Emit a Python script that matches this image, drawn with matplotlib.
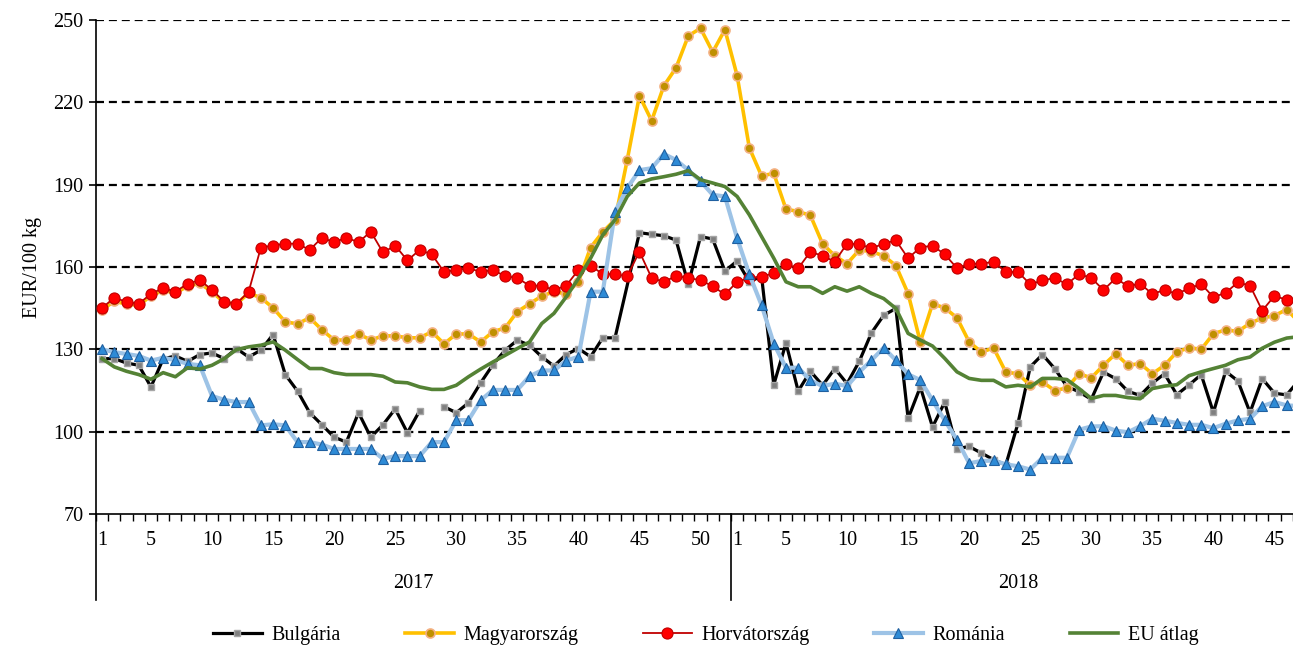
import numpy as np
import matplotlib
matplotlib.use("Agg")
import matplotlib.pyplot as plt
import matplotlib.transforms as mtransforms

plt.rcParams['font.family'] = ['Liberation Serif', 'DejaVu Serif']

# weekly prices, EUR/100 kg (2017: weeks 1-52, 2018: weeks 1-47)
weeks_2017 = list(range(1, 53))
weeks_2018 = list(range(1, 48))
years = ["2017", "2018"]

nan = np.nan
bulgaria_2017 = [126.6, 126.6, 125.0, 124.2, 116.3, 126.5, 127.6, 125.6, 128.1, 128.7,
                 126.6, 130.3, 127.2, 129.7, 135.4, 120.8, 114.8, 106.9, 102.5, 98.0,
                 96.2, 106.9, 98.0, 102.5, 108.3, 99.6, 107.6, nan, 109.1, 106.9,
                 110.5, 117.8, 124.4, 129.7, 133.3, 131.5, 127.3, 123.9, 128.1, 130.3,
                 127.3, 134.2, 134.2, nan, 172.5, 171.9, 171.4, 169.8, 153.7, 171.1,
                 170.2, 158.5]
bulgaria_2018 = [162.2, 154.6, 156.7, 117.1, 132.3, 114.8, 122.0, 116.9, 123.0, 117.5,
                 125.6, 136.0, 142.4, 144.9, 104.8, 116.3, 101.7, 110.8, 93.8, 94.6,
                 92.2, 89.8, 87.9, 103.1, 123.6, 128.1, 123.0, 116.5, 114.5, 111.8,
                 121.7, 119.3, 114.7, 113.2, 117.7, 121.1, 113.5, 117.0, 120.8, 107.0,
                 122.0, 118.5, 107.0, 119.3, 114.0, 113.4, 118.7]

hungary_2017 = [144.5, 147.5, 146.5, 146.0, 149.5, 151.5, 150.5, 153.0, 154.0, 151.0,
                147.0, 146.5, 150.5, 148.8, 145.1, 140.0, 139.3, 141.5, 137.1, 133.4,
                133.4, 135.6, 133.4, 134.9, 134.9, 134.2, 134.2, 136.4, 132.0, 135.6,
                135.6, 132.7, 136.4, 137.8, 143.7, 146.6, 149.4, 151.0, 150.2, 154.6,
                167.1, 172.8, 177.2, 199.0, 222.4, 213.3, 226.0, 232.6, 244.2, 247.0,
                238.3, 246.5]
hungary_2018 = [229.7, 203.4, 193.2, 194.1, 181.1, 180.2, 178.8, 168.4, 164.1, 161.2,
                166.2, 165.6, 164.1, 160.5, 150.3, 132.7, 146.6, 145.1, 141.5, 132.7,
                129.0, 130.5, 121.7, 121.1, 116.9, 118.1, 115.0, 115.9, 121.1, 119.6,
                124.2, 128.4, 124.2, 124.8, 121.1, 124.2, 129.0, 130.6, 130.0, 135.7,
                137.1, 136.5, 139.5, 141.4, 142.3, 144.5, 140.0]

croatia_2017 = [145.1, 148.8, 147.3, 146.6, 150.2, 152.4, 151.0, 153.9, 155.2, 151.7,
                147.3, 146.6, 151.0, 167.1, 167.8, 168.5, 168.5, 166.2, 170.7, 169.0,
                170.7, 169.0, 172.9, 165.3, 167.8, 162.4, 166.2, 164.6, 158.2, 158.9,
                159.6, 158.2, 158.9, 156.7, 156.0, 153.2, 153.2, 151.6, 153.2, 158.9,
                160.5, 157.4, 157.4, 156.6, 165.6, 156.0, 154.6, 156.7, 156.0, 155.2,
                153.0, 150.0]
croatia_2018 = [154.6, 156.0, 156.5, 157.7, 161.0, 159.5, 165.6, 164.0, 162.0, 168.5,
                168.3, 166.8, 168.5, 169.7, 163.2, 167.1, 167.8, 164.6, 159.6, 161.2,
                161.2, 161.9, 158.2, 158.2, 153.7, 155.1, 156.0, 153.7, 157.4, 156.0,
                151.6, 155.9, 153.0, 153.9, 150.2, 151.6, 150.2, 152.2, 153.8, 149.0,
                150.6, 154.4, 153.2, 144.1, 149.5, 148.0, 146.8]

romania_2017 = [130.0, 129.0, 128.3, 127.6, 125.9, 126.9, 126.1, 124.7, 124.2, 113.0,
                111.6, 110.8, 110.8, 102.3, 102.7, 102.3, 96.2, 96.2, 95.3, 93.7,
                93.7, 93.7, 93.7, 90.1, 91.1, 91.1, 91.1, 96.2, 96.2, 104.2,
                104.2, 111.4, 115.2, 115.2, 115.2, 120.2, 122.3, 122.3, 125.9, 127.3,
                151.0, 151.0, 180.2, 188.7, 195.3, 196.0, 201.2, 199.0, 195.3, 191.3,
                186.3, 185.7]
romania_2018 = [170.5, 157.3, 146.1, 132.1, 123.3, 123.3, 118.7, 116.6, 117.5, 116.6,
                121.7, 126.0, 130.6, 126.0, 120.9, 118.8, 111.4, 104.1, 97.1, 88.5,
                89.3, 89.5, 88.1, 87.4, 86.2, 90.5, 90.5, 90.5, 100.7, 101.9,
                102.0, 100.4, 99.8, 102.0, 104.7, 104.0, 103.2, 102.5, 102.5, 101.3,
                102.9, 104.1, 104.7, 109.3, 110.8, 109.6, 109.3]

eu_2017 = [126.6, 123.6, 122.0, 120.8, 119.1, 121.5, 120.0, 123.3, 122.8, 124.2,
           126.6, 129.9, 130.9, 131.5, 132.7, 129.7, 126.3, 123.0, 123.0, 121.5,
           120.8, 120.8, 120.8, 120.2, 118.1, 117.8, 116.3, 115.4, 115.4, 116.9,
           120.0, 122.8, 125.4, 127.8, 130.3, 132.7, 139.4, 143.1, 149.1, 155.8,
           163.2, 171.7, 177.2, 185.7, 190.6, 192.1, 192.9, 193.8, 195.1, 191.8,
           190.6, 189.3]
eu_2018 = [185.7, 179.0, 171.1, 163.2, 154.6, 152.8, 152.8, 150.4, 152.8, 151.2,
           152.8, 150.4, 148.5, 144.9, 135.8, 133.4, 131.2, 126.7, 121.8, 119.4,
           118.7, 118.7, 116.3, 116.9, 116.3, 119.4, 119.4, 119.0, 115.7, 112.1,
           113.2, 113.2, 112.4, 112.0, 115.7, 116.6, 117.1, 120.4, 121.8, 123.0,
           124.2, 126.2, 127.2, 130.4, 132.6, 134.1, 134.6]

labels = ["Bulgária", "Magyarország", "Horvátország", "Románia", "EU átlag"]
shown_weeks = [1, 5, 10, 15, 20, 25, 30, 35, 40, 45, 50]

n17 = len(weeks_2017)
n = n17 + len(weeks_2018)
x = np.arange(n)

W, H = 1293, 648
fig = plt.figure(figsize=(W / 100, H / 100), dpi=100)
# plot area runs past the right edge of the picture (the original is cropped)
ax = fig.add_axes([96 / W, (H - 514) / H, 1209 / W, 494 / H])

# Bulgária: week 28 leaves a gap, the missing week 44 is bridged
bg = np.array(bulgaria_2017 + bulgaria_2018)
x_bg = np.delete(x, 43)
y_bg = np.delete(bg, 43)
ax.plot(x_bg, y_bg, color='black', lw=2.3, marker='s', ms=5,
        mfc='#7f7f7f', mec='#a6a6a6', mew=1, label=labels[0], zorder=3)
ax.plot(x, hungary_2017 + hungary_2018, color='#ffc000', lw=2.6, marker='o', ms=6.5,
        mfc='#bf9000', mec='#f4b183', mew=1.2, label=labels[1], zorder=4)
ax.plot(x, croatia_2017 + croatia_2018, color='#c00000', lw=1.3, marker='o', ms=8,
        mfc='#ff0000', mec='#c00000', mew=0.8, label=labels[2], zorder=5)
ax.plot(x, romania_2017 + romania_2018, color='#9dc3e6', lw=3, marker='^', ms=7,
        mfc='#2e8bd6', mec='#2060a0', mew=0.8, label=labels[3], zorder=6)
ax.plot(x, eu_2017 + eu_2018, color='#548235', lw=2.6, label=labels[4], zorder=7)

ax.set_ylim(70, 250)
ax.set_yticks(np.arange(70, 251, 30))
ax.set_xlim(-0.5, n - 0.5)
for yv in np.arange(100, 251, 30):
    ax.axhline(yv, color='black', lw=1.6, ls=(0, (3.6, 2.2)), zorder=1)

for s in ['top', 'right']:
    ax.spines[s].set_visible(False)
ax.spines['left'].set_linewidth(1.2)
ax.spines['bottom'].set_linewidth(1.2)

ax.tick_params(axis='y', direction='out', length=5, width=1.2, labelsize=14.5, pad=4)
ax.set_ylabel("EUR/100 kg", fontsize=14.5, labelpad=8)

# tick marks between weeks, labels under selected weeks
ax.set_xticks(np.arange(-0.5, n, 1))
ax.tick_params(axis='x', which='major', direction='out', length=5, width=1, labelbottom=False)
lab_pos = [w - 1 for w in shown_weeks] + [n17 + w - 1 for w in shown_weeks if w <= 45]
lab_txt = [str(w) for w in shown_weeks] + [str(w) for w in shown_weeks if w <= 45]
ax.set_xticks(lab_pos, minor=True)
ax.set_xticklabels(lab_txt, minor=True)
ax.tick_params(axis='x', which='minor', length=0, labelsize=14.5, pad=12)

# year separators and year labels
trans = mtransforms.blended_transform_factory(ax.transData, ax.transAxes)
for xs in [-0.5, n17 - 0.5]:
    ax.plot([xs, xs], [0, -0.175], color='black', lw=1.2, transform=trans, clip_on=False)
ax.text((n17 - 1) / 2, -0.14, years[0], transform=trans, ha='center', va='center', fontsize=14.5)
ax.text(n17 + (n - n17 - 1) / 2, -0.14, years[1], transform=trans, ha='center', va='center', fontsize=14.5)

fig.legend(loc='center', bbox_to_anchor=(0.546, 0.02), ncol=5, frameon=False,
           fontsize=14.5, handlelength=2.4, columnspacing=3.2, handletextpad=0.5)

fig.savefig("out.png", dpi=100)
